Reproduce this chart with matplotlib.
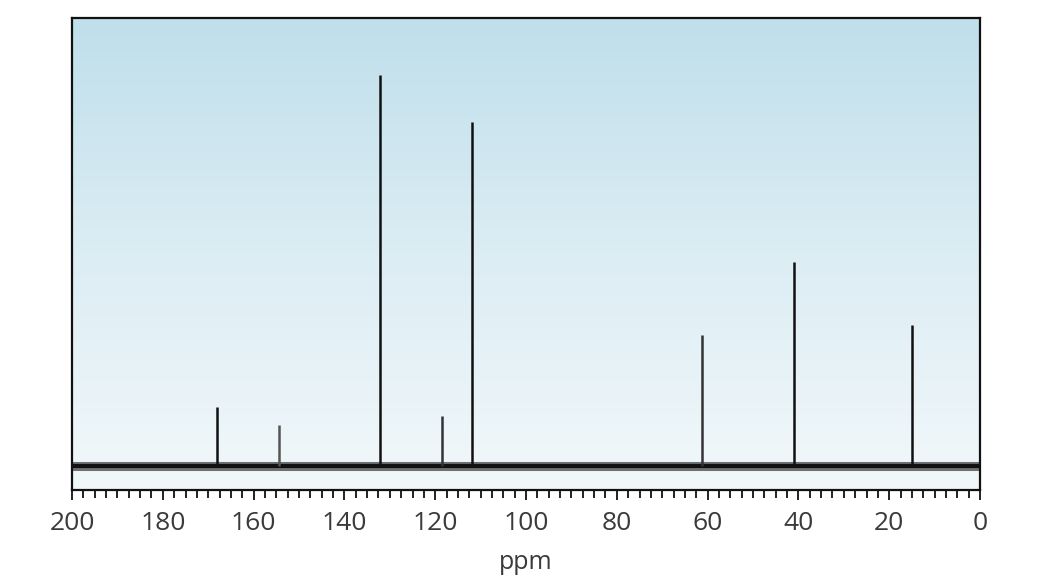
import numpy as np
import matplotlib
matplotlib.use('Agg')
import matplotlib.pyplot as plt
from matplotlib.colors import LinearSegmentedColormap
from matplotlib.ticker import MultipleLocator

plt.rcParams['font.family'] = ['Open Sans', 'DejaVu Sans']

# Сигналы спектра: положение (ppm) и высота пика
peak_ppm = [168.0, 154.5, 132.2, 118.5, 111.9, 61.2, 41.0, 15.0]
peak_height = [59, 41, 391, 50, 344, 131, 204, 141]
peak_color = ['#111111', '#555555', '#111111', '#333333', '#111111', '#333333', '#111111', '#111111']

tick_values = [200, 180, 160, 140, 120, 100, 80, 60, 40, 20, 0]

fig = plt.figure(figsize=(10.64, 5.87), dpi=100)
ax = fig.add_axes([72 / 1064, 97 / 587, 908 / 1064, 472 / 587])

y_min, y_max = -24, 448

# Градиентный фон
cmap = LinearSegmentedColormap.from_list('bg', ['#f2f8fa', '#dcedf4', '#bfdfeb'])
grad = np.linspace(0, 1, 256).reshape(-1, 1)
ax.imshow(grad, cmap=cmap, origin='lower', aspect='auto',
          extent=[200, 0, y_min, y_max], zorder=0)

# Шумовая базовая линия
ax.plot([200, 0], [0, 0], color='#444444', linewidth=6.5, alpha=0.75, zorder=2)
ax.plot([200, 0], [0, 0], color='#111111', linewidth=3, zorder=3)

# Пики
for p, h, c in zip(peak_ppm, peak_height, peak_color):
    ax.vlines(p, 0, h, color=c, linewidth=1.8, zorder=4)

ax.set_xlim(200, 0)
ax.set_ylim(y_min, y_max)
ax.set_yticks([])

ax.set_xticks(tick_values)
ax.set_xticklabels([str(v) for v in tick_values])
ax.xaxis.set_minor_locator(MultipleLocator(2.5))
ax.tick_params(axis='x', which='major', length=7, width=1.3, pad=8,
               labelsize=19, labelcolor='#3a3a3a', color='#111111')
ax.tick_params(axis='x', which='minor', length=6, width=1.3, color='#111111')

for s in ax.spines.values():
    s.set_color('#111111')
    s.set_linewidth(1.6)

ax.set_xlabel('ppm', fontsize=18, color='#3a3a3a', labelpad=10)

fig.savefig('out.png', dpi=100)
